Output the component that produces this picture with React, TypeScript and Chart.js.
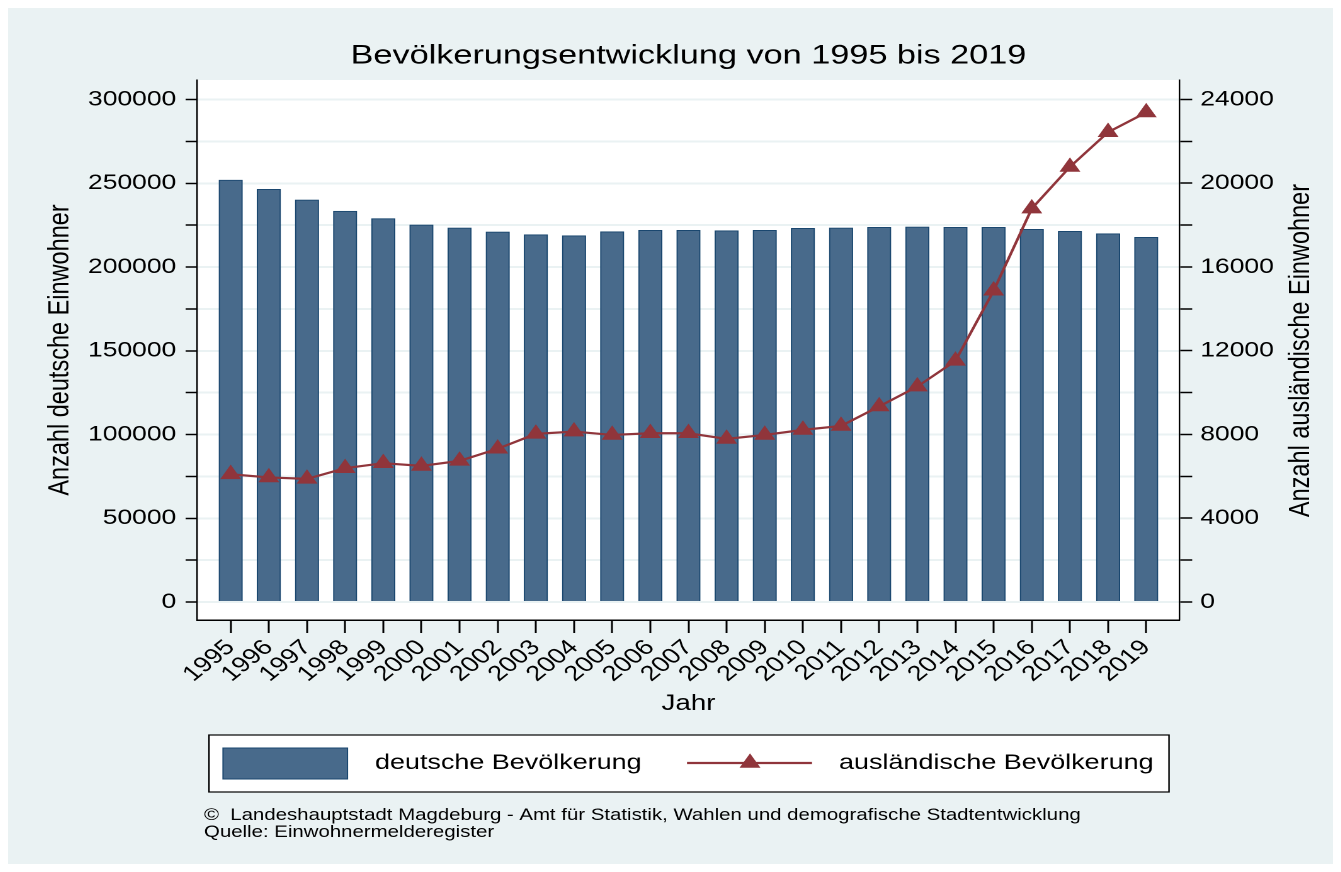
import React, { useEffect, useRef } from 'react';
import { Chart, registerables } from 'chart.js';

Chart.register(...registerables);

// ---------- data ----------
const years = [1995, 1996, 1997, 1998, 1999, 2000, 2001, 2002, 2003, 2004, 2005, 2006, 2007, 2008, 2009, 2010, 2011, 2012, 2013, 2014, 2015, 2016, 2017, 2018, 2019];
const germanPop = [251900, 246400, 240000, 233300, 228900, 225100, 223300, 220900, 219300, 218700, 221100, 221900, 221900, 221700, 221900, 223100, 223300, 223700, 223900, 223700, 223700, 222500, 221300, 219900, 217700];
const foreignPop = [6100, 5950, 5880, 6390, 6630, 6500, 6740, 7320, 8030, 8140, 7980, 8060, 8060, 7790, 7980, 8220, 8410, 9340, 10290, 11520, 14870, 18790, 20780, 22440, 23380];
const leftTicks = [0, 25000, 50000, 75000, 100000, 125000, 150000, 175000, 200000, 225000, 250000, 275000, 300000];
const leftLabeled = [0, 50000, 100000, 150000, 200000, 250000, 300000];
const rightTicks = [0, 2000, 4000, 6000, 8000, 10000, 12000, 14000, 16000, 18000, 20000, 22000, 24000];
const rightLabeled = [0, 4000, 8000, 12000, 16000, 20000, 24000];

const titleText = 'Bevölkerungsentwicklung von 1995 bis 2019';
const xTitle = 'Jahr';
const yLeftTitle = 'Anzahl deutsche Einwohner';
const yRightTitle = 'Anzahl ausländische Einwohner';
const legendLabels = ['deutsche Bevölkerung', 'ausländische Bevölkerung'];
const footerLines = [
  '©  Landeshauptstadt Magdeburg - Amt für Statistik, Wahlen und demografische Stadtentwicklung',
  'Quelle: Einwohnermelderegister',
];

// ---------- layout / style ----------
const W = 1052;
const H = 856;
const OUTER_W = 1325;
const S = OUTER_W / W; // horizontal stretch of the reference
const ux = (x: number) => (x - 8) / S;
const uy = (y: number) => y - 8;

const FONT = '"Liberation Sans", Arial, Helvetica, sans-serif';
const BG = '#eaf2f3';
const GRID = '#eaf2f3';
const BAR_FILL = '#486a8b';
const BAR_EDGE = '#1a476f';
const MAROON = '#90353b';

const bgPlugin = {
  id: 'plotBg',
  beforeDraw(chart: any) {
    const { ctx, chartArea } = chart;
    ctx.save();
    ctx.fillStyle = '#ffffff';
    ctx.fillRect(chartArea.left, chartArea.top, chartArea.right - chartArea.left, chartArea.bottom - chartArea.top);
    ctx.restore();
  },
};

function triangle(ctx: CanvasRenderingContext2D, cx: number, cy: number, r: number) {
  ctx.beginPath();
  ctx.moveTo(cx, cy - r);
  ctx.lineTo(cx + r * 0.866, cy + r / 2);
  ctx.lineTo(cx - r * 0.866, cy + r / 2);
  ctx.closePath();
  ctx.fill();
}

const textPlugin = {
  id: 'texts',
  afterDraw(chart: any) {
    const ctx: CanvasRenderingContext2D = chart.ctx;
    const ca = chart.chartArea;
    const cx = (ca.left + ca.right) / 2;
    ctx.save();
    ctx.fillStyle = '#000';
    ctx.textBaseline = 'middle';
    ctx.textAlign = 'center';
    // title
    ctx.font = `27.2px ${FONT}`;
    ctx.fillText(titleText, cx, uy(56));
    // x title
    ctx.font = `22px ${FONT}`;
    ctx.fillText(xTitle, cx, uy(704));
    // y titles
    ctx.font = `23.5px ${FONT}`;
    ctx.save();
    ctx.translate(ux(60), uy(350));
    ctx.rotate(-Math.PI / 2);
    ctx.fillText(yLeftTitle, 0, 0);
    ctx.restore();
    ctx.save();
    ctx.translate(ux(1301), uy(350.5));
    ctx.rotate(-Math.PI / 2);
    ctx.fillText(yRightTitle, 0, 0);
    ctx.restore();

    // legend box
    const lx0 = ux(209), lx1 = ux(1169), ly0 = uy(735), ly1 = uy(792);
    ctx.fillStyle = '#ffffff';
    ctx.fillRect(lx0, ly0, lx1 - lx0, ly1 - ly0);
    ctx.strokeStyle = '#000';
    ctx.lineWidth = 1.2;
    ctx.strokeRect(lx0, ly0, lx1 - lx0, ly1 - ly0);
    const lyc = uy(763);
    // bar swatch
    ctx.fillStyle = BAR_FILL;
    ctx.fillRect(ux(223), uy(748), ux(347.5) - ux(223), 31);
    ctx.strokeStyle = BAR_EDGE;
    ctx.lineWidth = 1;
    ctx.strokeRect(ux(223), uy(748), ux(347.5) - ux(223), 31);
    // line swatch
    ctx.strokeStyle = MAROON;
    ctx.lineWidth = 2.2;
    ctx.beginPath();
    ctx.moveTo(ux(687), lyc);
    ctx.lineTo(ux(812), lyc);
    ctx.stroke();
    ctx.fillStyle = MAROON;
    triangle(ctx, ux(750), lyc, 9.6);
    // legend text
    ctx.fillStyle = '#000';
    ctx.textAlign = 'left';
    ctx.font = `21.4px ${FONT}`;
    ctx.fillText(legendLabels[0], ux(375), lyc);
    ctx.fillText(legendLabels[1], ux(839), lyc);

    // footer
    ctx.font = `16.2px ${FONT}`;
    ctx.textBaseline = 'alphabetic';
    ctx.fillText(footerLines[0], ux(204), uy(820));
    ctx.fillText(footerLines[1], ux(204), uy(837));
    ctx.restore();
  },
};

export default function App() {
  const ref = useRef<HTMLCanvasElement | null>(null);

  useEffect(() => {
    const canvas = ref.current;
    if (!canvas) return;
    const chart = new Chart(canvas, {
      type: 'bar',
      data: {
        datasets: [
          {
            type: 'line',
            label: legendLabels[1],
            data: years.map((x, i) => ({ x, y: foreignPop[i] })),
            yAxisID: 'y1',
            xAxisID: 'x',
            order: 0,
            borderColor: MAROON,
            backgroundColor: MAROON,
            borderWidth: 2.2,
            pointStyle: 'triangle',
            pointRadius: 9.6,
            pointBorderWidth: 0,
            pointBackgroundColor: MAROON,
            pointBorderColor: MAROON,
            tension: 0,
          } as any,
          {
            type: 'bar',
            label: legendLabels[0],
            data: years.map((x, i) => ({ x, y: germanPop[i] })),
            yAxisID: 'y',
            xAxisID: 'x',
            order: 1,
            backgroundColor: BAR_FILL,
            borderColor: BAR_EDGE,
            borderWidth: 1,
            barThickness: 23.3 / S,
          } as any,
        ],
      },
      options: {
        responsive: false,
        animation: false,
        devicePixelRatio: 2,
        layout: { padding: { top: uy(80), left: 0, right: 0, bottom: 0 } },
        plugins: {
          legend: { display: false },
          tooltip: { enabled: false },
          title: { display: false },
        },
        scales: {
          x: {
            type: 'linear',
            position: 'bottom',
            min: 1994.125,
            max: 2019.875,
            offset: false,
            afterBuildTicks: (s: any) => {
              s.ticks = years.map((v) => ({ value: v }));
            },
            afterFit: (s: any) => {
              s.height = H - uy(620);
            },
            ticks: {
              autoSkip: false,
              minRotation: 45,
              maxRotation: 45,
              padding: 2,
              color: '#000',
              font: { family: FONT, size: 21.5 },
              callback: (v: any) => String(v),
            },
            grid: {
              offset: false,
              drawOnChartArea: false,
              drawTicks: true,
              tickLength: 13,
              tickColor: '#000',
              tickWidth: 1.5,
            },
            border: { display: true, color: '#000', width: 1.5 },
          },
          y: {
            type: 'linear',
            position: 'left',
            min: -10746,
            max: 311642,
            afterBuildTicks: (s: any) => {
              s.ticks = leftTicks.map((v) => ({ value: v }));
            },
            afterFit: (s: any) => {
              s.width = ux(197.3);
            },
            ticks: {
              padding: 7.4,
              color: '#000',
              font: { family: FONT, size: 21 },
              callback: (v: any) => (leftLabeled.includes(v) ? String(v) : ''),
            },
            grid: {
              color: GRID,
              lineWidth: 2,
              tickLength: 9.3,
              tickColor: '#000',
              tickWidth: 1.5,
            },
            border: { display: true, color: '#000', width: 1.2 },
          },
          y1: {
            type: 'linear',
            position: 'right',
            min: -859.7,
            max: 24931,
            afterBuildTicks: (s: any) => {
              s.ticks = rightTicks.map((v) => ({ value: v }));
            },
            afterFit: (s: any) => {
              s.width = W - ux(1179.6);
            },
            ticks: {
              padding: 6.4,
              color: '#000',
              font: { family: FONT, size: 21 },
              callback: (v: any) => (rightLabeled.includes(v) ? String(v) : ''),
            },
            grid: {
              drawOnChartArea: false,
              tickLength: 10,
              tickColor: '#000',
              tickWidth: 1.5,
            },
            border: { display: true, color: '#000', width: 1.2 },
          },
        },
      } as any,
      plugins: [bgPlugin, textPlugin],
    });
    return () => chart.destroy();
  }, []);

  return (
    <div style={{ width: OUTER_W, height: H, overflow: 'hidden', background: BG }}>
      <div style={{ width: W, height: H, transform: `scaleX(${S})`, transformOrigin: '0 0' }}>
        <canvas ref={ref} width={W} height={H} />
      </div>
    </div>
  );
}
